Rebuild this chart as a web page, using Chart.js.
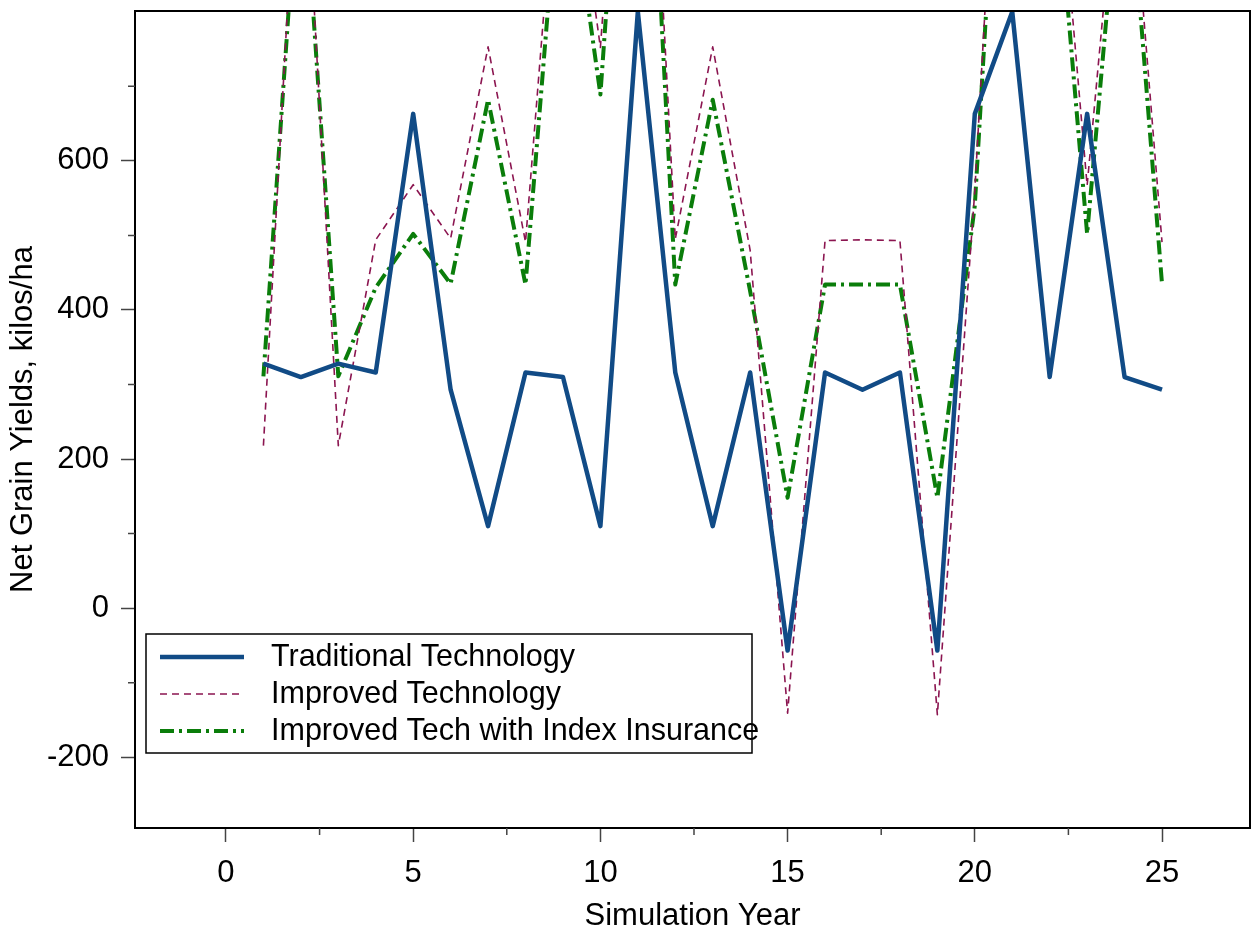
<!DOCTYPE html>
<html>
<head>
<meta charset="utf-8">
<script src="https://cdn.jsdelivr.net/npm/chart.js@4/dist/chart.umd.min.js"></script>
<style>
  html, body { margin: 0; padding: 0; background: #fff; }
  #wrap { width: 1251px; height: 935px; }
</style>
</head>
<body>
<div id="wrap"><canvas id="grafico"></canvas></div>
<script>
// años de simulación
const years = [1, 2, 3, 4, 5, 6, 7, 8, 9, 10, 11, 12, 13, 14, 15, 16, 17, 18, 19, 20, 21, 22, 23, 24, 25];

// rendimientos netos (kilos/ha); los valores por encima de 800 quedan recortados en el gráfico
const traditional = [328, 310, 328, 316, 663, 293, 110, 316, 310, 110, 800, 316, 110, 316, -57, 316, 293, 316, -57, 663, 800, 310, 663, 310, 293];
const improved = [218, 1130, 218, 494, 568, 496, 753, 491, 1120, 752, 1450, 495, 753, 480, -141, 493, 494, 493, -143, 560, 1450, 1150, 567, 1110, 491];
const insured = [311, 1040, 311, 430, 502, 435, 682, 434, 1050, 689, 1400, 434, 682, 425, 148, 434, 434, 434, 148, 540, 1400, 1088, 502, 1065, 435];

const seriesNames = ['Traditional Technology', 'Improved Technology', 'Improved Tech with Index Insurance'];

// marcas de los ejes
const xMajorTicks = [0, 5, 10, 15, 20, 25];
const xMinorTicks = [2.5, 7.5, 12.5, 17.5, 22.5];
const yMajorTicks = [-200, 0, 200, 400, 600];
const yMinorTicks = [-100, 100, 300, 500, 700];

const fuente = "'Liberation Sans', Arial, Helvetica, sans-serif";
const tamano = 31;

// marco completo del área de trazado
const marco = {
    id: 'marco',
    afterDraw(chart) {
        const { ctx, chartArea: a } = chart;
        ctx.save();
        ctx.strokeStyle = '#000';
        ctx.lineWidth = 2;
        ctx.strokeRect(a.left, a.top, a.right - a.left, a.bottom - a.top);
        ctx.restore();
    }
};

// marcas menores más cortas
const marcasMenores = {
    id: 'marcasMenores',
    afterDraw(chart) {
        const { ctx, chartArea: a, scales } = chart;
        ctx.save();
        ctx.strokeStyle = '#444';
        ctx.lineWidth = 1.5;
        ctx.beginPath();
        xMinorTicks.forEach(v => {
            const px = scales.x.getPixelForValue(v);
            ctx.moveTo(px, a.bottom);
            ctx.lineTo(px, a.bottom + 7);
        });
        yMinorTicks.forEach(v => {
            const py = scales.y.getPixelForValue(v);
            ctx.moveTo(a.left, py);
            ctx.lineTo(a.left - 7, py);
        });
        ctx.stroke();
        ctx.restore();
    }
};

// leyenda dentro del gráfico, abajo a la izquierda
const leyenda = {
    id: 'leyenda',
    afterDraw(chart) {
        const { ctx, chartArea: a } = chart;
        const x0 = a.left + 11;
        const y0 = a.bottom - 194;
        ctx.save();
        ctx.fillStyle = '#fff';
        ctx.fillRect(x0, y0, 606, 119);
        ctx.strokeStyle = '#000';
        ctx.lineWidth = 1.5;
        ctx.strokeRect(x0, y0, 606, 119);
        chart.data.datasets.forEach((ds, i) => {
            const y = y0 + 23 + i * 37;
            ctx.beginPath();
            ctx.strokeStyle = ds.borderColor;
            ctx.lineWidth = ds.borderWidth;
            ctx.setLineDash(ds.borderDash || []);
            ctx.moveTo(x0 + 14, y);
            ctx.lineTo(x0 + 98, y);
            ctx.stroke();
            ctx.setLineDash([]);
            ctx.fillStyle = '#000';
            ctx.font = `30.5px ${fuente}`;
            ctx.textBaseline = 'middle';
            ctx.fillText(ds.label, x0 + 125, y + 1);
        });
        ctx.restore();
    }
};

const serie = (label, values, color, width, dash) => ({
    label: label,
    data: years.map((y, i) => ({ x: y, y: values[i] })),
    borderColor: color,
    backgroundColor: color,
    borderWidth: width,
    borderDash: dash,
    borderJoinStyle: 'round',
    pointRadius: 0,
    tension: 0,
    fill: false,
    clip: 1
});

document.addEventListener('DOMContentLoaded', () => {
    const ctx = document.getElementById('grafico').getContext('2d');

    new Chart(ctx, {
        type: 'line',
        data: {
            datasets: [
                serie(seriesNames[0], traditional, '#114b86', 4.5, []),
                serie(seriesNames[1], improved, '#8b1550', 1.6, [7, 5]),
                serie(seriesNames[2], insured, '#0a7d0a', 4, [14, 5, 3, 5])
            ]
        },
        options: {
            responsive: true,
            maintainAspectRatio: false,
            animation: false,
            layout: { padding: { top: 11, right: 1, left: 0, bottom: 0 } },
            plugins: {
                legend: { display: false },
                tooltip: { enabled: false }
            },
            scales: {
                x: {
                    type: 'linear',
                    min: -2.43,
                    max: 27.35,
                    afterBuildTicks: (axis) => { axis.ticks = xMajorTicks.map(v => ({ value: v })); },
                    afterFit: (axis) => { axis.height = 107; axis.paddingLeft = 0; axis.paddingRight = 0; },
                    grid: { drawOnChartArea: false, drawTicks: true, tickLength: 14, tickColor: '#444', tickWidth: 1.5 },
                    border: { display: true, color: '#000', width: 2 },
                    ticks: { color: '#000', font: { family: fuente, size: tamano }, padding: 13, maxRotation: 0 },
                    title: {
                        display: true,
                        text: 'Simulation Year',
                        color: '#000',
                        font: { family: fuente, size: tamano },
                        padding: { top: 4, bottom: 0 }
                    }
                },
                y: {
                    type: 'linear',
                    min: -295,
                    max: 801,
                    afterBuildTicks: (axis) => { axis.ticks = yMajorTicks.map(v => ({ value: v })); },
                    afterFit: (axis) => { axis.width = 135; axis.paddingTop = 0; axis.paddingBottom = 0; },
                    grid: { drawOnChartArea: false, drawTicks: true, tickLength: 14, tickColor: '#444', tickWidth: 1.5 },
                    border: { display: true, color: '#000', width: 2 },
                    ticks: { color: '#000', font: { family: fuente, size: tamano }, padding: 12 },
                    title: {
                        display: true,
                        text: 'Net Grain Yields, kilos/ha',
                        color: '#000',
                        font: { family: fuente, size: tamano },
                        padding: { top: 5, bottom: 7 }
                    }
                }
            }
        },
        plugins: [marco, marcasMenores, leyenda]
    });
});
</script>
</body>
</html>
